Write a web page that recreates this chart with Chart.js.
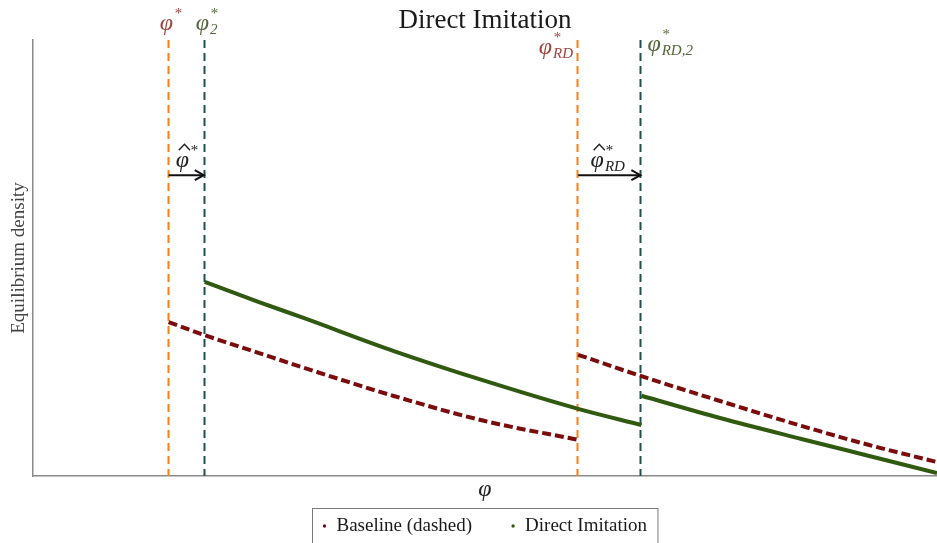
<!DOCTYPE html>
<html>
<head>
<meta charset="utf-8">
<script src="https://cdn.jsdelivr.net/npm/chart.js@4/dist/chart.umd.min.js"></script>
<style>
html,body{margin:0;padding:0;background:#fff;}
#wrap{width:937px;height:543px;position:relative;}
</style>
</head>
<body>
<div id="wrap"><canvas id="c" width="937" height="543"></canvas></div>
<script>
// ---- data (x in φ units 0..100, y in density units 0..100) ----
const thresholdX = [15, 19, 60.3, 67.3];           // φ*, φ2*, φRD*, φRD,2*
const thresholdColors = ['#ff7f0e', '#1f5050', '#ff7f0e', '#1f5050'];
const baseX1 = [15, 19, 25, 30, 40, 50, 60.3];
const baseY1 = [35.3, 32.3, 28.2, 24.8, 18.3, 12.6, 8.3];
const baseX2 = [60.3, 67.3, 76, 85, 92.5, 100];
const baseY2 = [27.8, 22.9, 17.2, 11.5, 7.1, 3.2];
const imitX1 = [19, 25, 30, 40, 50, 60.3, 67.3];
const imitY1 = [44.5, 39.9, 36.2, 28.6, 21.8, 15.4, 11.7];
const imitX2 = [67.3, 76, 85, 92.5, 100];
const imitY2 = [18.4, 13.3, 8.5, 4.6, 0.7];
const arrowY = 69;
const seriesLabels = ['Baseline (dashed)', 'Direct Imitation'];
const seriesColors = ['#7b0c0c', '#2f5a10'];

function pts(xs, ys){ return xs.map((x,i)=>({x:x, y:ys[i]})); }
function joinSegs(a, b){ return a.concat([{x:b[0].x, y:null}], b); }

const SERIF = '"Liberation Serif", "Times New Roman", serif';

function drawSym(ctx, x, y, base, sub, sup, color, align, hat){
  const bf = 'italic 24px ' + SERIF;
  const sf = 'italic 15px ' + SERIF;
  ctx.save();
  ctx.fillStyle = color; ctx.strokeStyle = color;
  ctx.textBaseline = 'alphabetic';
  ctx.font = bf; const bw = ctx.measureText(base).width;
  ctx.font = sf;
  const subw = sub ? ctx.measureText(sub).width : 0;
  const supw = sup ? ctx.measureText(sup).width : 0;
  const total = bw + 1 + Math.max(subw, supw);
  let x0 = x;
  if (align === 'center') x0 = x - total/2;
  else if (align === 'right') x0 = x - total;
  ctx.font = bf; ctx.textAlign = 'left';
  ctx.fillText(base, x0, y);
  if (hat){
    ctx.lineWidth = 1.4;
    ctx.beginPath();
    ctx.moveTo(x0 + 3, y - 17);
    ctx.lineTo(x0 + bw/2 + 2, y - 23);
    ctx.lineTo(x0 + bw + 1, y - 17);
    ctx.stroke();
  }
  ctx.font = sf;
  if (sup) ctx.fillText(sup, x0 + bw + 1, y - 12);
  if (sub) ctx.fillText(sub, x0 + bw + 1, y + 4);
  ctx.restore();
}

const decor = {
  id: 'decor',
  beforeDatasetsDraw(chart){
    const {ctx, chartArea:a, scales:{x}} = chart;
    ctx.save();
    ctx.lineWidth = 2;
    ctx.setLineDash([8,5]);
    thresholdX.forEach((v,i)=>{
      const px = Math.round(x.getPixelForValue(v)) - 0.5;
      ctx.strokeStyle = thresholdColors[i];
      ctx.beginPath(); ctx.moveTo(px, a.top); ctx.lineTo(px, a.bottom); ctx.stroke();
    });
    ctx.restore();
  },
  afterDraw(chart){
    const {ctx, chartArea:a, scales:{x, y}} = chart;
    // title
    ctx.save();
    ctx.font = '27px ' + SERIF;
    ctx.fillStyle = '#1a1a1a';
    ctx.textAlign = 'center'; ctx.textBaseline = 'middle';
    ctx.fillText('Direct Imitation', (a.left + a.right)/2, 21);
    ctx.restore();
    const px = thresholdX.map(v => x.getPixelForValue(v));
    // threshold labels
    drawSym(ctx, px[0] + 2, 30, 'φ', '', '*', '#a0453f', 'center');
    drawSym(ctx, px[1] - 9, 30, 'φ', '2', '*', '#55673a', 'left');
    drawSym(ctx, px[2] - 5, 54, 'φ', 'RD', '*', '#a0453f', 'right');
    drawSym(ctx, px[3] + 6, 51, 'φ', 'RD,2', '*', '#55673a', 'left');
    // arrows
    const ay = y.getPixelForValue(arrowY);
    [[px[0], px[1]], [px[2], px[3]]].forEach(([s, e])=>{
      ctx.save();
      ctx.strokeStyle = '#111'; ctx.fillStyle = '#111'; ctx.lineWidth = 2;
      ctx.beginPath(); ctx.moveTo(s, ay); ctx.lineTo(e - 2, ay); ctx.stroke();
      ctx.beginPath(); ctx.moveTo(e - 10, ay - 5); ctx.lineTo(e - 1, ay); ctx.lineTo(e - 10, ay + 5); ctx.stroke();
      ctx.restore();
    });
    drawSym(ctx, (px[0] + px[1])/2, ay - 8, 'φ', '', '*', '#222', 'center', true);
    drawSym(ctx, (px[2] + px[3])/2 - 2, ay - 8, 'φ', 'RD', '*', '#222', 'center', true);
    // legend
    ctx.save();
    ctx.font = '19px ' + SERIF;
    const w1 = ctx.measureText(seriesLabels[0]).width;
    const w2 = ctx.measureText(seriesLabels[1]).width;
    const gap = 40, dotW = 13, pad = 11;
    const boxW = pad + dotW + w1 + gap + dotW + w2 + pad;
    const cx = (a.left + a.right)/2;
    const bx = Math.round(cx - boxW/2) + 0.5;
    const by = 508.5;
    ctx.strokeStyle = '#7a7a7a'; ctx.lineWidth = 1;
    ctx.strokeRect(bx, by, boxW, 40);
    const ly = 526;
    ctx.textBaseline = 'middle';
    let lx = bx + pad;
    ctx.fillStyle = seriesColors[0]; ctx.beginPath(); ctx.arc(lx + 1, ly, 1.7, 0, Math.PI*2); ctx.fill();
    ctx.fillStyle = '#1a1a1a'; ctx.fillText(seriesLabels[0], lx + dotW, ly);
    lx += dotW + w1 + gap;
    ctx.fillStyle = seriesColors[1]; ctx.beginPath(); ctx.arc(lx + 1, ly, 1.7, 0, Math.PI*2); ctx.fill();
    ctx.fillStyle = '#1a1a1a'; ctx.fillText(seriesLabels[1], lx + dotW, ly);
    ctx.restore();
  }
};

new Chart(document.getElementById('c'), {
  type: 'line',
  data: {
    datasets: [
      {
        label: seriesLabels[0],
        data: joinSegs(pts(baseX1, baseY1), pts(baseX2, baseY2)),
        borderColor: seriesColors[0], backgroundColor: seriesColors[0],
        borderWidth: 4, borderDash: [9,4], borderCapStyle: 'butt',
        pointRadius: 0, cubicInterpolationMode: 'monotone', spanGaps: false
      },
      {
        label: seriesLabels[1],
        data: joinSegs(pts(imitX1, imitY1), pts(imitX2, imitY2)),
        borderColor: seriesColors[1], backgroundColor: seriesColors[1],
        borderWidth: 4,
        pointRadius: 0, cubicInterpolationMode: 'monotone', spanGaps: false
      }
    ]
  },
  options: {
    responsive: false, animation: false,
    layout: { padding: { top: 40, bottom: 36, left: 0, right: 0 } },
    plugins: { legend: { display: false }, title: { display: false }, tooltip: { enabled: false } },
    scales: {
      x: {
        type: 'linear', min: 0, max: 100,
        grid: { display: false }, ticks: { display: false },
        border: { display: true, color: '#8a8a8a', width: 1.5 },
        title: { display: true, text: 'φ', font: { family: SERIF, size: 24, style: 'italic' }, color: '#222', padding: { top: 2, bottom: 3 } },
        afterFit(s){ s.height = 31; }
      },
      y: {
        type: 'linear', min: 0, max: 100,
        grid: { display: false }, ticks: { display: false },
        border: { display: true, color: '#8a8a8a', width: 1.5 },
        title: { display: true, text: 'Equilibrium density', font: { family: SERIF, size: 19 }, color: '#444', padding: { top: 8, bottom: 2 } },
        afterFit(s){ s.width = 33; }
      }
    }
  },
  plugins: [decor]
});
</script>
</body>
</html>
